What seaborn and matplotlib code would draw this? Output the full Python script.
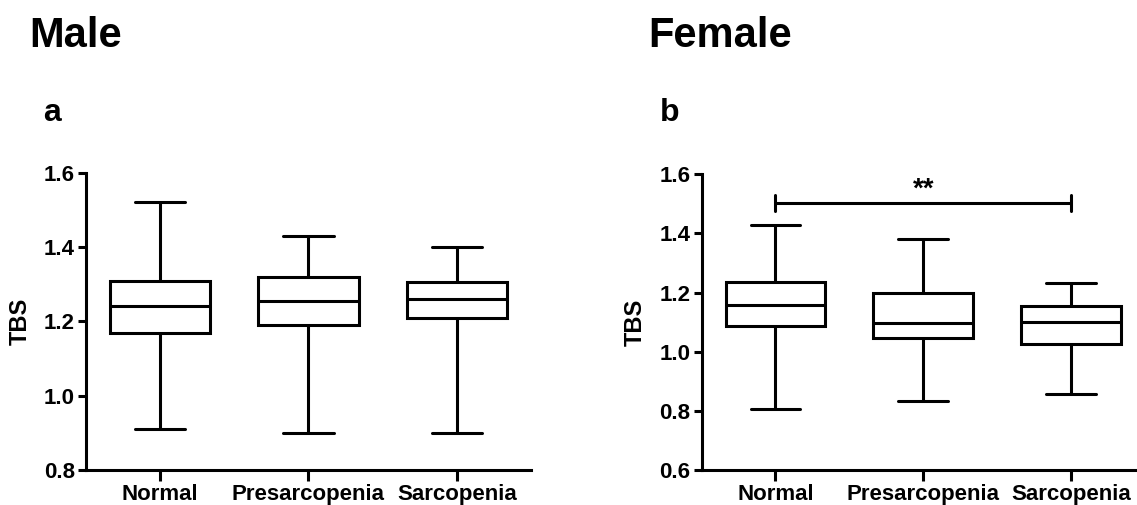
import numpy as np
import pandas as pd
import matplotlib
matplotlib.use("Agg")
import matplotlib.pyplot as plt
import seaborn as sns

# groups on the x axis
groups = ['Normal', 'Presarcopenia', 'Sarcopenia']

# five-number summaries: min, Q1, median, Q3, max
male_normal = [0.910, 1.169, 1.241, 1.308, 1.520]
male_presarc = [0.899, 1.190, 1.255, 1.319, 1.431]
male_sarc = [0.899, 1.210, 1.259, 1.307, 1.399]

female_normal = [0.807, 1.087, 1.157, 1.236, 1.428]
female_presarc = [0.834, 1.046, 1.098, 1.197, 1.381]
female_sarc = [0.858, 1.025, 1.099, 1.156, 1.234]

male_yticks = [0.8, 1.0, 1.2, 1.4, 1.6]
female_yticks = [0.6, 0.8, 1.0, 1.2, 1.4, 1.6]

# Normal vs Sarcopenia in females
sig_bar_y = 1.502
sig_label = '**'


def build_df(values_list):
    '''long form table, one row per value, grouped by sarcopenia status'''
    rows = []
    for grp, vals in zip(groups, values_list):
        for v in vals:
            rows.append({'Group': grp, 'TBS': v})
    return pd.DataFrame(rows)


male_df = build_df([male_normal, male_presarc, male_sarc])
female_df = build_df([female_normal, female_presarc, female_sarc])

sns.set_style("white")
plt.rcParams['font.family'] = ['Liberation Sans', 'DejaVu Sans']
plt.rcParams['font.weight'] = 'bold'
plt.rcParams['axes.labelweight'] = 'bold'
plt.rcParams['text.color'] = 'black'
plt.rcParams['axes.labelcolor'] = 'black'

fig = plt.figure(figsize=(11.37, 5.05), dpi=100)
ax_m = fig.add_axes([0.0756, 0.0693, 0.3914, 0.5887])
ax_f = fig.add_axes([0.6171, 0.0693, 0.3897, 0.5856])


def draw_panel(ax, df, ylim, yticks):
    sns.boxplot(data=df, x='Group', y='TBS', order=groups, whis=(0, 100),
                width=0.675, color='white', linecolor='black', linewidth=2.2,
                ax=ax)
    ax.set_xlim(-0.5, 2.5)
    ax.set_ylim(ylim)
    ax.set_yticks(yticks)
    ax.set_yticklabels(['%.1f' % t for t in yticks])
    ax.set_xlabel('')
    ax.set_ylabel('TBS', fontsize=17, fontweight='bold', labelpad=9)
    sns.despine(ax=ax)
    for side in ['left', 'bottom']:
        ax.spines[side].set_linewidth(2.2)
        ax.spines[side].set_color('black')
    ax.tick_params(axis='both', direction='out', length=6, width=2.2,
                   colors='black', labelsize=16, pad=2,
                   bottom=True, left=True)
    ax.tick_params(axis='x', length=8, pad=2)
    ax.set_facecolor('none')


draw_panel(ax_m, male_df, (0.8, 1.6), male_yticks)
draw_panel(ax_f, female_df, (0.6, 1.6), female_yticks)

# significance bracket between Normal and Sarcopenia
x0, x1 = 0, 2
ax_f.plot([x0, x1], [sig_bar_y, sig_bar_y], color='black', lw=2.2, clip_on=False)
ax_f.plot([x0, x0], [sig_bar_y - 0.027, sig_bar_y + 0.027], color='black', lw=2.2)
ax_f.plot([x1, x1], [sig_bar_y - 0.027, sig_bar_y + 0.027], color='black', lw=2.2)
ax_f.text((x0 + x1) / 2, sig_bar_y + 0.002, sig_label, ha='center', va='bottom',
          fontsize=20, fontweight='bold')

# panel headings
fig.text(0.026, 0.907, 'Male', fontsize=30, fontweight='bold', va='baseline')
fig.text(0.5705, 0.907, 'Female', fontsize=30, fontweight='bold', va='baseline')
fig.text(0.038, 0.760, 'a', fontsize=23, fontweight='bold', va='baseline')
fig.text(0.580, 0.760, 'b', fontsize=23, fontweight='bold', va='baseline')

plt.savefig('out.png', dpi=100)
